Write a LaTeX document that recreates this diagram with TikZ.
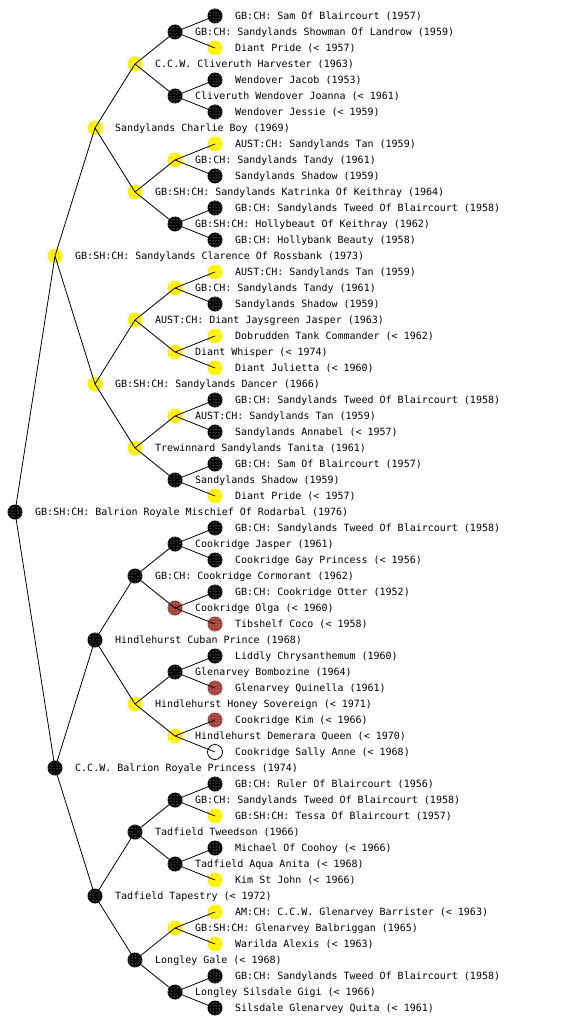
\documentclass[tikz,border=0pt]{standalone}
\usepackage{fontspec}
\setmonofont{DejaVu Sans Mono}
\usetikzlibrary{patterns}

\definecolor{dogbrown}{RGB}{160,64,56}

\tikzset{
    dog/.style={circle, minimum size=15pt, inner sep=0pt},
    dogblack/.style={dog, fill=black, postaction={pattern=dots, pattern color=white}},
    dogyellow/.style={dog, fill=yellow},
    dogred/.style={dog, fill=dogbrown, postaction={pattern=dots, pattern color=white!80!dogbrown}},
    dogwhite/.style={dog, fill=white, draw=black, line width=0.8pt},
    doglabel/.style={anchor=base west, inner sep=0pt, font=\ttfamily\fontsize{10}{12}\selectfont},
    pedline/.style={black, line width=0.8pt}
}

% index (top to bottom) / generation / colour / name
\def\doglist{
    1/5/black/GB:CH: Sam Of Blaircourt (1957),
    2/4/black/GB:CH: Sandylands Showman Of Landrow (1959),
    3/5/yellow/Diant Pride (< 1957),
    4/3/yellow/C.C.W. Cliveruth Harvester (1963),
    5/5/black/Wendover Jacob (1953),
    6/4/black/Cliveruth Wendover Joanna (< 1961),
    7/5/black/Wendover Jessie (< 1959),
    8/2/yellow/Sandylands Charlie Boy (1969),
    9/5/yellow/AUST:CH: Sandylands Tan (1959),
    10/4/yellow/GB:CH: Sandylands Tandy (1961),
    11/5/black/Sandylands Shadow (1959),
    12/3/yellow/GB:SH:CH: Sandylands Katrinka Of Keithray (1964),
    13/5/black/GB:CH: Sandylands Tweed Of Blaircourt (1958),
    14/4/black/GB:SH:CH: Hollybeaut Of Keithray (1962),
    15/5/black/GB:CH: Hollybank Beauty (1958),
    16/1/yellow/GB:SH:CH: Sandylands Clarence Of Rossbank (1973),
    17/5/yellow/AUST:CH: Sandylands Tan (1959),
    18/4/yellow/GB:CH: Sandylands Tandy (1961),
    19/5/black/Sandylands Shadow (1959),
    20/3/yellow/AUST:CH: Diant Jaysgreen Jasper (1963),
    21/5/yellow/Dobrudden Tank Commander (< 1962),
    22/4/yellow/Diant Whisper (< 1974),
    23/5/yellow/Diant Julietta (< 1960),
    24/2/yellow/GB:SH:CH: Sandylands Dancer (1966),
    25/5/black/GB:CH: Sandylands Tweed Of Blaircourt (1958),
    26/4/yellow/AUST:CH: Sandylands Tan (1959),
    27/5/black/Sandylands Annabel (< 1957),
    28/3/yellow/Trewinnard Sandylands Tanita (1961),
    29/5/black/GB:CH: Sam Of Blaircourt (1957),
    30/4/black/Sandylands Shadow (1959),
    31/5/yellow/Diant Pride (< 1957),
    32/0/black/GB:SH:CH: Balrion Royale Mischief Of Rodarbal (1976),
    33/5/black/GB:CH: Sandylands Tweed Of Blaircourt (1958),
    34/4/black/Cookridge Jasper (1961),
    35/5/black/Cookridge Gay Princess (< 1956),
    36/3/black/GB:CH: Cookridge Cormorant (1962),
    37/5/black/GB:CH: Cookridge Otter (1952),
    38/4/red/Cookridge Olga (< 1960),
    39/5/red/Tibshelf Coco (< 1958),
    40/2/black/Hindlehurst Cuban Prince (1968),
    41/5/black/Liddly Chrysanthemum (1960),
    42/4/black/Glenarvey Bombozine (1964),
    43/5/red/Glenarvey Quinella (1961),
    44/3/yellow/Hindlehurst Honey Sovereign (< 1971),
    45/5/red/Cookridge Kim (< 1966),
    46/4/yellow/Hindlehurst Demerara Queen (< 1970),
    47/5/white/Cookridge Sally Anne (< 1968),
    48/1/black/C.C.W. Balrion Royale Princess (1974),
    49/5/black/GB:CH: Ruler Of Blaircourt (1956),
    50/4/black/GB:CH: Sandylands Tweed Of Blaircourt (1958),
    51/5/yellow/GB:SH:CH: Tessa Of Blaircourt (1957),
    52/3/black/Tadfield Tweedson (1966),
    53/5/black/Michael Of Coohoy (< 1966),
    54/4/black/Tadfield Aqua Anita (< 1968),
    55/5/yellow/Kim St John (< 1966),
    56/2/black/Tadfield Tapestry (< 1972),
    57/5/yellow/AM:CH: C.C.W. Glenarvey Barrister (< 1963),
    58/4/yellow/GB:SH:CH: Glenarvey Balbriggan (1965),
    59/5/yellow/Warilda Alexis (< 1963),
    60/3/black/Longley Gale (< 1968),
    61/5/black/GB:CH: Sandylands Tweed Of Blaircourt (1958),
    62/4/black/Longley Silsdale Gigi (< 1966),
    63/5/black/Silsdale Glenarvey Quita (< 1961)}

\begin{document}
\begin{tikzpicture}[x=1pt,y=-1pt]
    \fill[white] (0,0) rectangle (560,1024);
    \useasboundingbox (0,0) rectangle (560,1024);

    % dogs and names
    \foreach \i/\g/\c/\t in \doglist {
        \node[dog\c] (n\i) at ({15+40*\g},{16*\i}) {};
        \node[doglabel] (t\i) at ({35+40*\g},{16*\i+3.5}) {\t};
    }

    % sire and dam lines
    \foreach \i/\g/\c/\t in \doglist {
        \ifnum\g<5\relax
            \pgfmathtruncatemacro\d{2^(4-\g)}
            \pgfmathtruncatemacro\a{\i-\d}
            \pgfmathtruncatemacro\b{\i+\d}
            \draw[pedline] (n\i.center) -- (n\a.center) (n\i.center) -- (n\b.center);
        \fi
    }
\end{tikzpicture}
\end{document}
